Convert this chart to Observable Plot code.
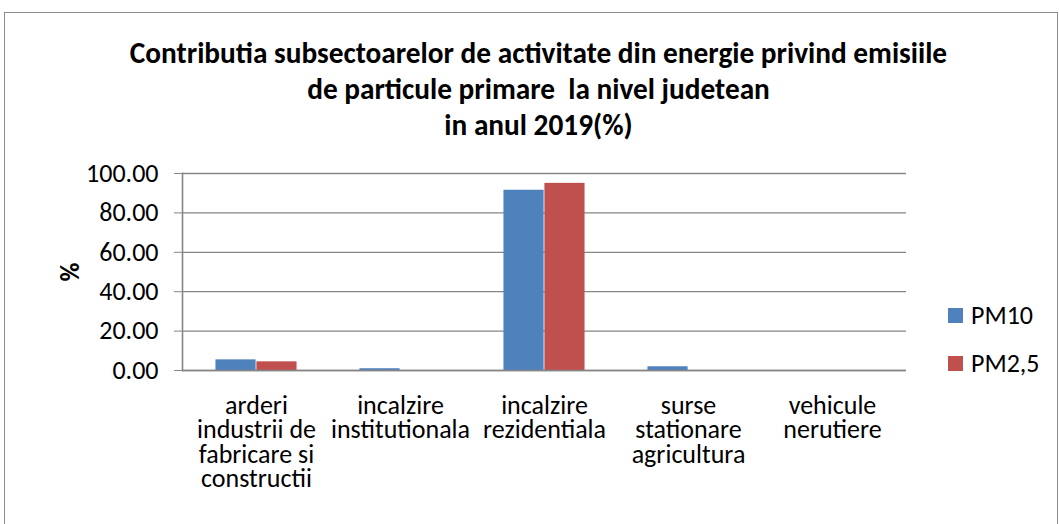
<!DOCTYPE html>
<html><head><meta charset="utf-8">
<script src="https://cdn.jsdelivr.net/npm/d3@7"></script>
<script src="https://cdn.jsdelivr.net/npm/@observablehq/plot@0.6"></script>
<style>
body{margin:0;background:#fff;}
#wrap{position:relative;width:1059px;height:524px;overflow:hidden;font-family:Carlito,Calibri,Lato,sans-serif;background:#fff;}
#border{position:absolute;left:4px;top:12px;width:1054px;height:600px;border:1.5px solid #8c8c8c;box-sizing:border-box;}
#title{position:absolute;left:0;width:1077px;top:35px;text-align:center;font-weight:bold;font-size:29.3px;line-height:36px;color:#000;}
#chart{position:absolute;left:0;top:0;}
.leg{position:absolute;left:948px;font-size:26px;line-height:26px;color:#000;display:flex;align-items:center;}
.leg span.sw{display:inline-block;width:15px;height:15px;margin-right:8px;}
</style>
</head><body>
<div id="wrap">
  <div id="border"></div>
  <div id="chart"></div>
  <div id="title"></div>
  <div id="legend"></div>
</div>
<script>
const titleLines = ["Contributia subsectoarelor de activitate din energie privind emisiile", "de particule primare  la nivel judetean", "in anul 2019(%)"];
const categories = ["arderi industrii de fabricare si constructii", "incalzire institutionala", "incalzire rezidentiala", "surse stationare agricultura", "vehicule nerutiere"];
const categoryLabels = ["arderi\nindustrii de\nfabricare si\nconstructii", "incalzire\ninstitutionala", "incalzire\nrezidentiala", "surse\nstationare\nagricultura", "vehicule\nnerutiere"];
const series = ["PM10", "PM2,5"];
const pm10 = [5.4, 0.9, 91.5, 1.9, 0];
const pm25 = [4.4, 0, 95.0, 0, 0];
const colors = ["#4F81BD", "#C0504D"];
const yTicks = [0, 20, 40, 60, 80, 100];
const yLabel = "%";

const font = "Carlito, Calibri, Lato, sans-serif";
document.getElementById("title").innerHTML = titleLines.map(t => t.replace(/  /g, " &nbsp;")).join("<br>");
document.getElementById("legend").innerHTML = series.map((s, i) =>
  `<div class="leg" style="top:${302 + i * 48}px"><span class="sw" style="background:${colors[i]}"></span>${s}</div>`).join("");

const data = categories.flatMap((c, i) => [
  {cat: c, series: series[0], value: pm10[i]},
  {cat: c, series: series[1], value: pm25[i]}
]);

const W = 1059, H = 524, mL = 182, mR = 153, mT = 173, mB = 154;
const step = (W - mL - mR) / categories.length;
const barW = step * 0.2828;
const outer = (step - 2 * barW) / 2;

const chart = Plot.plot({
  width: W, height: H,
  marginLeft: mL, marginRight: mR, marginTop: mT, marginBottom: mB,
  style: {fontFamily: font, fontSize: "26px", color: "#000", background: "transparent"},
  x: {domain: categories, padding: 0, label: null},
  y: {domain: [0, 100], label: yLabel},
  color: {domain: series, range: colors},
  marks: [
    Plot.gridY(yTicks, {stroke: "#868686", strokeOpacity: 1, strokeWidth: 1.3}),
    Plot.barY(data.filter(d => d.series === series[0] && d.value > 0), {x: "cat", y: "value", fill: "series", insetLeft: outer, insetRight: outer + barW}),
    Plot.barY(data.filter(d => d.series === series[1] && d.value > 0), {x: "cat", y: "value", fill: "series", insetLeft: outer + barW, insetRight: outer}),
    Plot.ruleY([0], {stroke: "#868686", strokeWidth: 1.6}),
    Plot.frame({anchor: "left", stroke: "#868686", strokeWidth: 1.6}),
    Plot.axisY(yTicks, {tickFormat: d => d.toFixed(2), tickSize: 8, tickPadding: 16, stroke: "#868686", fill: "#000", label: yLabel, labelAnchor: "center", labelOffset: 122, labelArrow: "none"}),
    Plot.axisX({tickFormat: c => categoryLabels[categories.indexOf(c)], tickSize: 0, tickPadding: 26, lineHeight: 0.94, fill: "#000", label: null})
  ]
});
document.getElementById("chart").appendChild(chart);
d3.select(chart).selectAll('g[aria-label="y-axis label"] text').style("font-weight", "bold");
</script>
</body></html>
